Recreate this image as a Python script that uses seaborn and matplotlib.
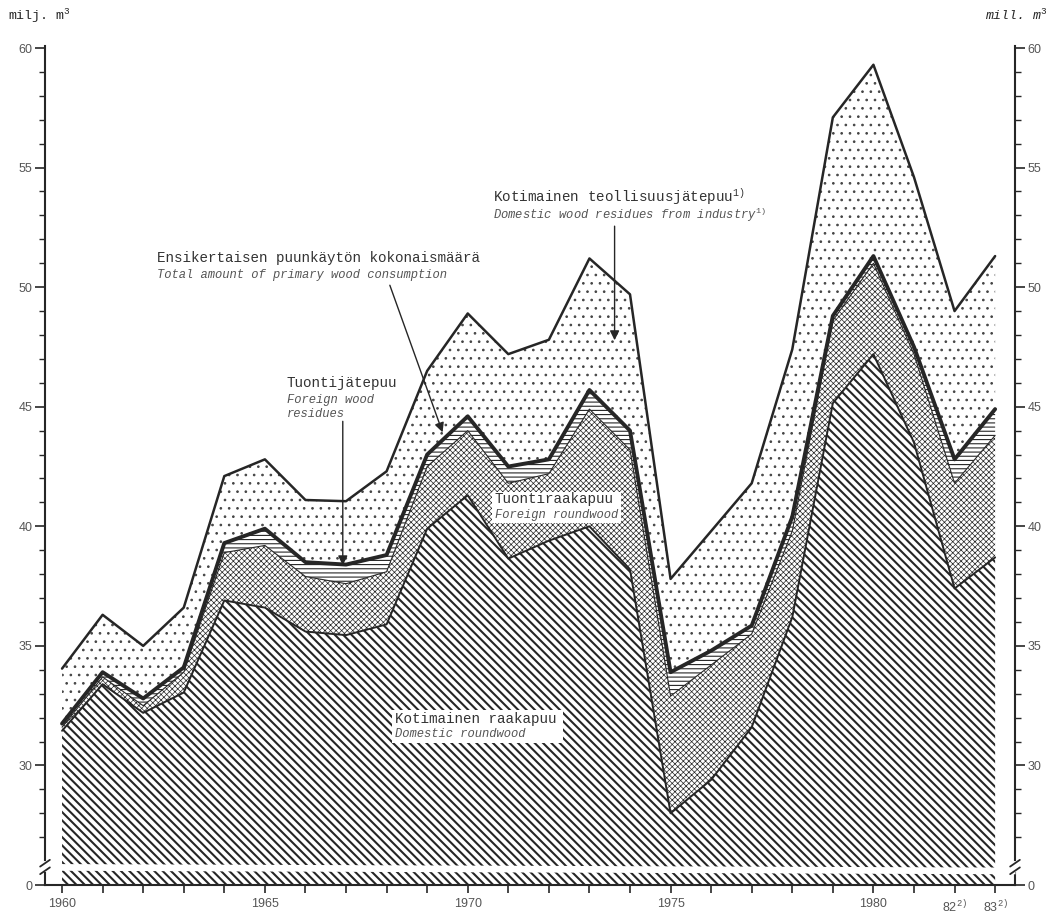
import numpy as np
import matplotlib
matplotlib.use('Agg')
import matplotlib.pyplot as plt
from matplotlib.patches import Rectangle
import seaborn as sns

# Wood consumption in Finland, milj. m3
years = np.arange(1960, 1984)
domestic_roundwood = [31.45, 33.4, 32.2, 33.05, 36.9, 36.6, 35.6, 35.45, 35.9, 39.9, 41.3, 38.65,
                      39.4, 40.0, 38.2, 28.0, 29.4, 31.6, 36.2, 45.15, 47.2, 43.5, 37.4, 38.7]
foreign_roundwood = [0.15, 0.3, 0.3, 0.85, 2.0, 2.6, 2.3, 2.15, 2.2, 2.6, 2.7, 3.15,
                     2.8, 4.9, 5.0, 4.9, 4.8, 3.9, 3.6, 3.45, 3.8, 3.7, 4.4, 5.1]
foreign_residues = [0.15, 0.2, 0.3, 0.2, 0.4, 0.7, 0.6, 0.8, 0.7, 0.5, 0.6, 0.7,
                    0.6, 0.8, 0.8, 1.0, 0.6, 0.35, 0.6, 0.2, 0.3, 0.3, 1.0, 1.1]
domestic_residues = [2.3, 2.4, 2.2, 2.5, 2.8, 2.9, 2.6, 2.65, 3.5, 3.5, 4.3, 4.7,
                     5.0, 5.5, 5.7, 3.9, 5.0, 5.95, 7.0, 8.3, 8.0, 7.1, 6.2, 6.4]

x_label_years = [1960, 1965, 1970, 1975, 1980, 1982, 1983]
x_labels = ['1960', '1965', '1970', '1975', '1980', r'82$^{2)}$', r'83$^{2)}$']
y_major = [30, 35, 40, 45, 50, 55, 60]

# stacked levels
dom = np.array(domestic_roundwood)
cross = dom + np.array(foreign_roundwood)
prim = cross + np.array(foreign_residues)
total = prim + np.array(domestic_residues)

sns.set_theme(style='ticks')
plt.rcParams['font.family'] = ['Liberation Mono', 'DejaVu Sans']
plt.rcParams['mathtext.fontset'] = 'custom'
plt.rcParams['mathtext.rm'] = 'Liberation Mono'
plt.rcParams['mathtext.it'] = 'Liberation Mono:italic'

ink = '#262626'
grey = '#555555'
bottom = 25.0  # the broken axis: real 0 is drawn here

fig = plt.figure(figsize=(10.54, 9.16), dpi=100)
ax = fig.add_axes([0.0427, 0.0338, 0.9203, 0.9164])

# hatched areas
with plt.rc_context({'hatch.linewidth': 1.5}):
    ax.fill_between(years, bottom, dom, facecolor='white', edgecolor=ink, hatch='\\\\\\\\', linewidth=0, zorder=1)
with plt.rc_context({'hatch.linewidth': 0.5}):
    ax.fill_between(years, dom, cross, facecolor='white', edgecolor=ink, hatch='xxxxxx', linewidth=0, zorder=1)
with plt.rc_context({'hatch.linewidth': 0.8}):
    ax.fill_between(years, cross, prim, facecolor='white', edgecolor=ink, hatch='----', linewidth=0, zorder=1)
with plt.rc_context({'hatch.linewidth': 0.7}):
    ax.fill_between(years, prim, total, facecolor='white', edgecolor='#444444', hatch='..', linewidth=0, zorder=1)

# boundary lines
sns.lineplot(x=years, y=dom, ax=ax, color=ink, linewidth=1.4, zorder=3)
sns.lineplot(x=years, y=cross, ax=ax, color=ink, linewidth=0.8, zorder=3)
sns.lineplot(x=years, y=prim, ax=ax, color=ink, linewidth=2.8, zorder=3)
sns.lineplot(x=years, y=total, ax=ax, color=ink, linewidth=1.8, zorder=3)

ax.set_xlim(1959.58, 1983.49)
ax.set_ylim(bottom, 60.1)

# axis break band
ax.fill_between([1959.58, 1983.49], [25.62, 25.47], [25.9, 25.75], color='white', linewidth=0, zorder=4)

# axes and ticks
for s in ['left', 'right', 'bottom']:
    ax.spines[s].set_color(ink)
    ax.spines[s].set_linewidth(1.5)
ax.spines['top'].set_visible(False)

ax.set_yticks([bottom] + y_major)
ax.set_yticklabels(['0'] + [str(v) for v in y_major])
ax.set_yticks([v for v in range(27, 60) if v % 5 != 0], minor=True)
ax.set_xticks(years, minor=True)
ax.set_xticks(x_label_years)
ax.set_xticklabels(x_labels)
ax.tick_params(axis='y', which='major', left=True, right=True, labelleft=True, labelright=True,
               length=7, width=1.2, pad=2, labelsize=9, labelcolor=grey, color=ink)
ax.tick_params(axis='y', which='minor', left=True, right=True, length=4, width=1.0, color=ink)
ax.tick_params(axis='x', which='both', length=5.5, width=1.2, pad=4, labelsize=9, labelcolor=grey, color=ink)
for lab in ax.get_xticklabels() + ax.get_yticklabels():
    lab.set_fontfamily('Liberation Sans')
ax.set_xlabel('')
ax.set_ylabel('')

# break marks on the side axes
for xa in [0, 1]:
    ax.plot([xa, xa], [0.0175, 0.026], transform=ax.transAxes, color='white', lw=3, clip_on=False, zorder=6)
    ax.plot([xa - 0.005, xa + 0.005], [0.013, 0.021], transform=ax.transAxes, color=ink, lw=1.3,
            clip_on=False, zorder=7)
    ax.plot([xa - 0.005, xa + 0.005], [0.022, 0.030], transform=ax.transAxes, color=ink, lw=1.3,
            clip_on=False, zorder=7)

# unit labels
fig.text(0.008, 0.978, r'milj. m$^3$', fontsize=9.5, color=ink, va='baseline')
fig.text(0.935, 0.978, r'mill. m$^3$', fontsize=9.5, color=ink, style='italic', va='baseline')

# annotations
roman = dict(fontsize=10.3, color='#333333', va='baseline', zorder=6)
italic = dict(fontsize=8.7, color=grey, style='italic', va='baseline', zorder=6)
arrow = dict(arrowstyle='-|>', color=ink, lw=1.0, mutation_scale=14, shrinkA=0, shrinkB=0)

ax.text(1970.62, 53.58, r'Kotimainen teollisuusjätepuu$^{1)}$', **roman)
ax.text(1970.62, 52.84, r'Domestic wood residues from industry$^{1)}$', **italic)
ax.annotate('', xy=(1973.62, 47.78), xytext=(1973.62, 52.55), arrowprops=arrow, zorder=6)

ax.text(1962.34, 51.05, 'Ensikertaisen puunkäytön kokonaismäärä', **roman)
ax.text(1962.34, 50.38, 'Total amount of primary wood consumption', **italic)
ax.annotate('', xy=(1969.38, 43.93), xytext=(1968.08, 50.08), arrowprops=arrow, zorder=6)

ax.text(1965.54, 45.82, 'Tuontijätepuu', **roman)
ax.text(1965.54, 45.15, 'Foreign wood', **italic)
ax.text(1965.54, 44.56, 'residues', **italic)
ax.annotate('', xy=(1966.92, 38.37), xytext=(1966.92, 44.39), arrowprops=arrow, zorder=6)

ax.add_patch(Rectangle((1970.59, 40.13), 3.2, 1.29, facecolor='white', edgecolor='none', zorder=5))
ax.text(1970.67, 40.96, 'Tuontiraakapuu', **roman)
ax.text(1970.67, 40.33, 'Foreign roundwood', **italic)

ax.add_patch(Rectangle((1968.13, 30.96), 4.21, 1.34, facecolor='white', edgecolor='none', zorder=5))
ax.text(1968.2, 31.76, 'Kotimainen raakapuu', **roman)
ax.text(1968.2, 31.17, 'Domestic roundwood', **italic)

plt.savefig('out.png', dpi=100, facecolor='white')
